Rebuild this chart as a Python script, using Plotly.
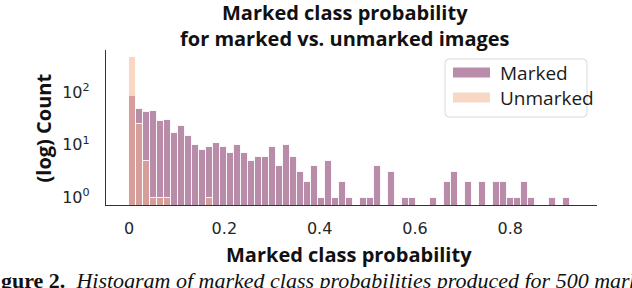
import plotly.graph_objects as go

# Histogram bins (probability), width of each bin
bin_width = 0.0147
n_bins = 63

marked_counts = [86, 48, 42, 43, 28, 29, 17, 23, 15, 10,
                 8, 9, 11, 9, 7, 10, 7, 5, 6, 6,
                 9, 4, 10, 6, 3, 2, 4, 1, 5, 1,
                 2, 1, 0, 1, 1, 4, 0, 3, 0, 1,
                 1, 0, 0, 1, 0, 2, 3, 0, 2, 0,
                 2, 0, 2, 2, 1, 1, 2, 1, 0, 0,
                 1, 0, 1]
unmarked_counts = [466, 25, 5, 1, 1, 1, 0, 0, 0, 0,
                   0, 1] + [0] * 51

series_names = ["Marked", "Unmarked"]
x_tick_vals = [0, 0.2, 0.4, 0.6, 0.8]
x_tick_text = ["0", "0.2", "0.4", "0.6", "0.8"]
y_tick_vals = [1, 10, 100]
y_tick_text = ["10<sup>0</sup>", "10<sup>1</sup>", "10<sup>2</sup>"]

centers = [(i + 0.5) * bin_width for i in range(n_bins)]
def nz(v):
    return [c if c > 0 else None for c in v]

MARKED = "rgba(115,27,83,0.5)"
UNMARKED = "rgba(243,175,139,0.5)"
EDGE = "rgba(255,255,255,0.85)"

fig = go.Figure()
fig.add_trace(go.Bar(x=centers, y=nz(marked_counts), width=bin_width, name=series_names[0],
                     marker=dict(color=MARKED, line=dict(color=EDGE, width=1))))
fig.add_trace(go.Bar(x=centers, y=nz(unmarked_counts), width=bin_width, name=series_names[1],
                     marker=dict(color=UNMARKED, line=dict(color=EDGE, width=1))))

W, H = 632, 288
L, R, T, B = 106, 35, 50, 83
pw = W - L - R
ph = H - T - B

def py(ypix):
    return (H - B - ypix) / ph
def px(xpix):
    return (xpix - L) / pw

fig.update_layout(
    width=W, height=H, barmode="overlay", bargap=0,
    margin=dict(l=L, r=R, t=T, b=B, pad=0),
    paper_bgcolor="white", plot_bgcolor="white",
    font=dict(family="DejaVu Sans", size=16, color="#262626"),
    showlegend=False,
    xaxis=dict(range=[-0.0483, 0.982], tickvals=x_tick_vals, ticktext=x_tick_text,
               showgrid=False, zeroline=False, showline=True, linecolor="#333333", linewidth=1.3,
               ticks="", ticklabelstandoff=9, automargin=False,
               tickfont=dict(family="DejaVu Sans", size=16, color="#262626")),
    yaxis=dict(type="log", range=[-0.142, 2.80], tickvals=y_tick_vals, ticktext=y_tick_text,
               showgrid=False, zeroline=False, showline=True, linecolor="#333333", linewidth=1.3,
               ticks="", ticklabelstandoff=12, automargin=False,
               tickfont=dict(family="DejaVu Sans", size=16, color="#262626")),
)

BOLD = dict(family="Open Sans", size=20, color="#111111")
for text, x, y in [("<b>Marked class probability</b>", 345, 12),
                   ("<b>for marked vs. unmarked images</b>", 345, 38),
                   ("<b>Marked class probability</b>", 349, 254)]:
    fig.add_annotation(text=text, x=px(x), y=py(y), xref="paper", yref="paper",
                       showarrow=False, xanchor="center", yanchor="middle", font=BOLD)
fig.add_annotation(text="<b>(log) Count</b>", x=px(43), y=py(127.5), xref="paper", yref="paper",
                   showarrow=False, xanchor="center", yanchor="middle", textangle=-90, font=BOLD)

# Manual legend (box, wide patches, labels)
bx0, bx1, by0, by1, rr = 445, 587, 59, 117, 4
path = (f"M {px(bx0+rr)} {py(by0)} L {px(bx1-rr)} {py(by0)} Q {px(bx1)} {py(by0)} {px(bx1)} {py(by0+rr)} "
        f"L {px(bx1)} {py(by1-rr)} Q {px(bx1)} {py(by1)} {px(bx1-rr)} {py(by1)} "
        f"L {px(bx0+rr)} {py(by1)} Q {px(bx0)} {py(by1)} {px(bx0)} {py(by1-rr)} "
        f"L {px(bx0)} {py(by0+rr)} Q {px(bx0)} {py(by0)} {px(bx0+rr)} {py(by0)} Z")
fig.add_shape(type="path", path=path, xref="paper", yref="paper",
              line=dict(color="#d9d9d9", width=1), fillcolor="rgba(255,255,255,0.8)")
for name, col, yc in [(series_names[0], MARKED, 72.5), (series_names[1], UNMARKED, 97.5)]:
    fig.add_shape(type="rect", xref="paper", yref="paper",
                  x0=px(453), x1=px(490), y0=py(yc - 5), y1=py(yc + 5),
                  line=dict(width=0), fillcolor=col)
    fig.add_annotation(text=name, x=px(498), y=py(yc), xref="paper", yref="paper",
                       showarrow=False, xanchor="left", yanchor="middle",
                       font=dict(family="Open Sans", size=19, color="#1a1a1a"))

fig.add_annotation(text="<b>gure 2.</b>  <i>Histogram of marked class probabilities produced for 500 mark</i>",
                   x=px(-1), y=py(280), xref="paper", yref="paper",
                   showarrow=False, xanchor="left", yanchor="middle",
                   font=dict(family="Liberation Serif", size=22, color="#111111"))

fig.write_html("out.html", post_script="document.body.style.margin='0px';",
               config={"displayModeBar": False})
